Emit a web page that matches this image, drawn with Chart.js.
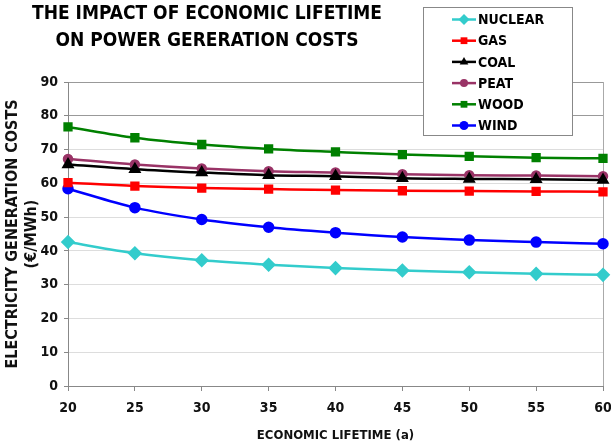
<!DOCTYPE html>
<html>
<head>
<meta charset="utf-8">
<script src="https://cdn.jsdelivr.net/npm/chart.js@4"></script>
<style>
  html, body { margin: 0; padding: 0; background: #fff; }
  #wrap { position: relative; width: 611px; height: 446px; }
</style>
</head>
<body>
<div id="wrap"><canvas id="myChart" width="611" height="446"></canvas></div>
<script>
const lifetimes = [20, 25, 30, 35, 40, 45, 50, 55, 60];
const nuclear = [42.6, 39.3, 37.2, 35.9, 34.9, 34.2, 33.7, 33.2, 32.9];
const gas = [60.2, 59.2, 58.6, 58.3, 58.0, 57.8, 57.7, 57.6, 57.5];
const coal = [65.6, 64.2, 63.2, 62.4, 62.1, 61.5, 61.3, 61.2, 61.0];
const peat = [67.2, 65.6, 64.4, 63.6, 63.2, 62.7, 62.4, 62.3, 62.1];
const wood = [76.7, 73.5, 71.5, 70.2, 69.3, 68.5, 68.0, 67.6, 67.4];
const wind = [58.4, 52.8, 49.3, 47.0, 45.4, 44.1, 43.2, 42.6, 42.1];
const titleLines = ["THE IMPACT OF ECONOMIC LIFETIME", "ON POWER GERERATION COSTS"];

const FONT = "'Liberation Sans Narrow', 'DejaVu Sans Condensed', Arial, sans-serif";

function serie(label, data, color, pointStyle, radius) {
  return {
    label: label,
    data: data,
    borderColor: color,
    backgroundColor: color,
    pointBackgroundColor: color,
    pointBorderColor: color,
    pointStyle: pointStyle,
    pointRadius: radius,
    borderWidth: 2.5,
    cubicInterpolationMode: "monotone",
  };
}

// title + legend drawn over the chart
const extras = {
  id: "extras",
  afterDraw(chart) {
    const ctx = chart.ctx;
    ctx.save();
    ctx.fillStyle = "#000";
    ctx.font = "bold 19px " + FONT;
    ctx.textAlign = "center";
    ctx.textBaseline = "middle";
    ctx.fillText(titleLines[0], 207, 14);
    ctx.fillText(titleLines[1], 207, 41);

    // legend box
    const bx = 423, by = 7, bw = 149, bh = 128;
    ctx.fillStyle = "#fff";
    ctx.fillRect(bx, by, bw, bh);
    ctx.strokeStyle = "#888";
    ctx.lineWidth = 1;
    ctx.strokeRect(bx + 0.5, by + 0.5, bw, bh);

    ctx.font = "bold 14px " + FONT;
    ctx.textAlign = "left";
    chart.data.datasets.forEach((ds, i) => {
      const y = 19.5 + i * 21.2;
      ctx.strokeStyle = ds.borderColor;
      ctx.lineWidth = 2.5;
      ctx.beginPath();
      ctx.moveTo(452, y);
      ctx.lineTo(476, y);
      ctx.stroke();
      ctx.fillStyle = ds.borderColor;
      Chart.helpers.drawPoint(ctx, { pointStyle: ds.pointStyle, radius: ds.pointRadius, rotation: 0 }, 464, y);
      ctx.fillStyle = "#000";
      ctx.fillText(ds.label, 478, y + 1);
    });
    ctx.restore();
  },
};

const config = {
  type: "line",
  data: {
    labels: lifetimes,
    datasets: [
      serie("NUCLEAR", nuclear, "#33CCCC", "rectRot", 5.5),
      serie("GAS", gas, "#FF0000", "rect", 4.8),
      serie("COAL", coal, "#000000", "triangle", 5),
      serie("PEAT", peat, "#993366", "circle", 4),
      serie("WOOD", wood, "#008000", "rect", 4.8),
      serie("WIND", wind, "#0000FF", "circle", 4.5),
    ],
  },
  options: {
    responsive: false,
    animation: false,
    layout: { padding: { top: 82, right: 8, left: 0, bottom: 0 } },
    plugins: {
      legend: { display: false },
      tooltip: { enabled: false },
    },
    scales: {
      x: {
        offset: false,
        afterFit: (scale) => {
          scale.height = 60;
          scale.paddingRight = 0;
        },
        border: { color: "#888", width: 1 },
        grid: {
          drawOnChartArea: true,
          color: (c) => (c.index === lifetimes.length - 1 ? "#aaa" : "rgba(0,0,0,0)"),
          tickColor: "#888",
          tickLength: 5,
        },
        ticks: {
          color: "#111",
          font: { family: FONT, size: 14, weight: "bold" },
          padding: 9,
          maxRotation: 0,
        },
        title: {
          display: true,
          text: "ECONOMIC LIFETIME (a)",
          color: "#111",
          font: { family: FONT, size: 13, weight: "bold" },
          padding: { top: 3, bottom: 3 },
        },
      },
      y: {
        min: 0,
        max: 90,
        afterFit: (scale) => { scale.width = 68; },
        border: { color: "#888", width: 1 },
        grid: {
          color: (c) => (c.tick.value >= 80 ? "#999" : "#ddd"),
          tickColor: "#888",
          tickLength: 4,
        },
        ticks: {
          stepSize: 10,
          color: "#111",
          font: { family: FONT, size: 14, weight: "bold" },
          padding: 6,
        },
        title: {
          display: true,
          text: ["ELECTRICITY GENERATION COSTS", "(€/MWh)"],
          color: "#111",
          font: { family: FONT, size: 16, weight: "bold", lineHeight: 1.15 },
          padding: { top: 4, bottom: 0 },
        },
      },
    },
  },
  plugins: [extras],
};

const myChart = new Chart(document.getElementById("myChart"), config);
</script>
</body>
</html>
